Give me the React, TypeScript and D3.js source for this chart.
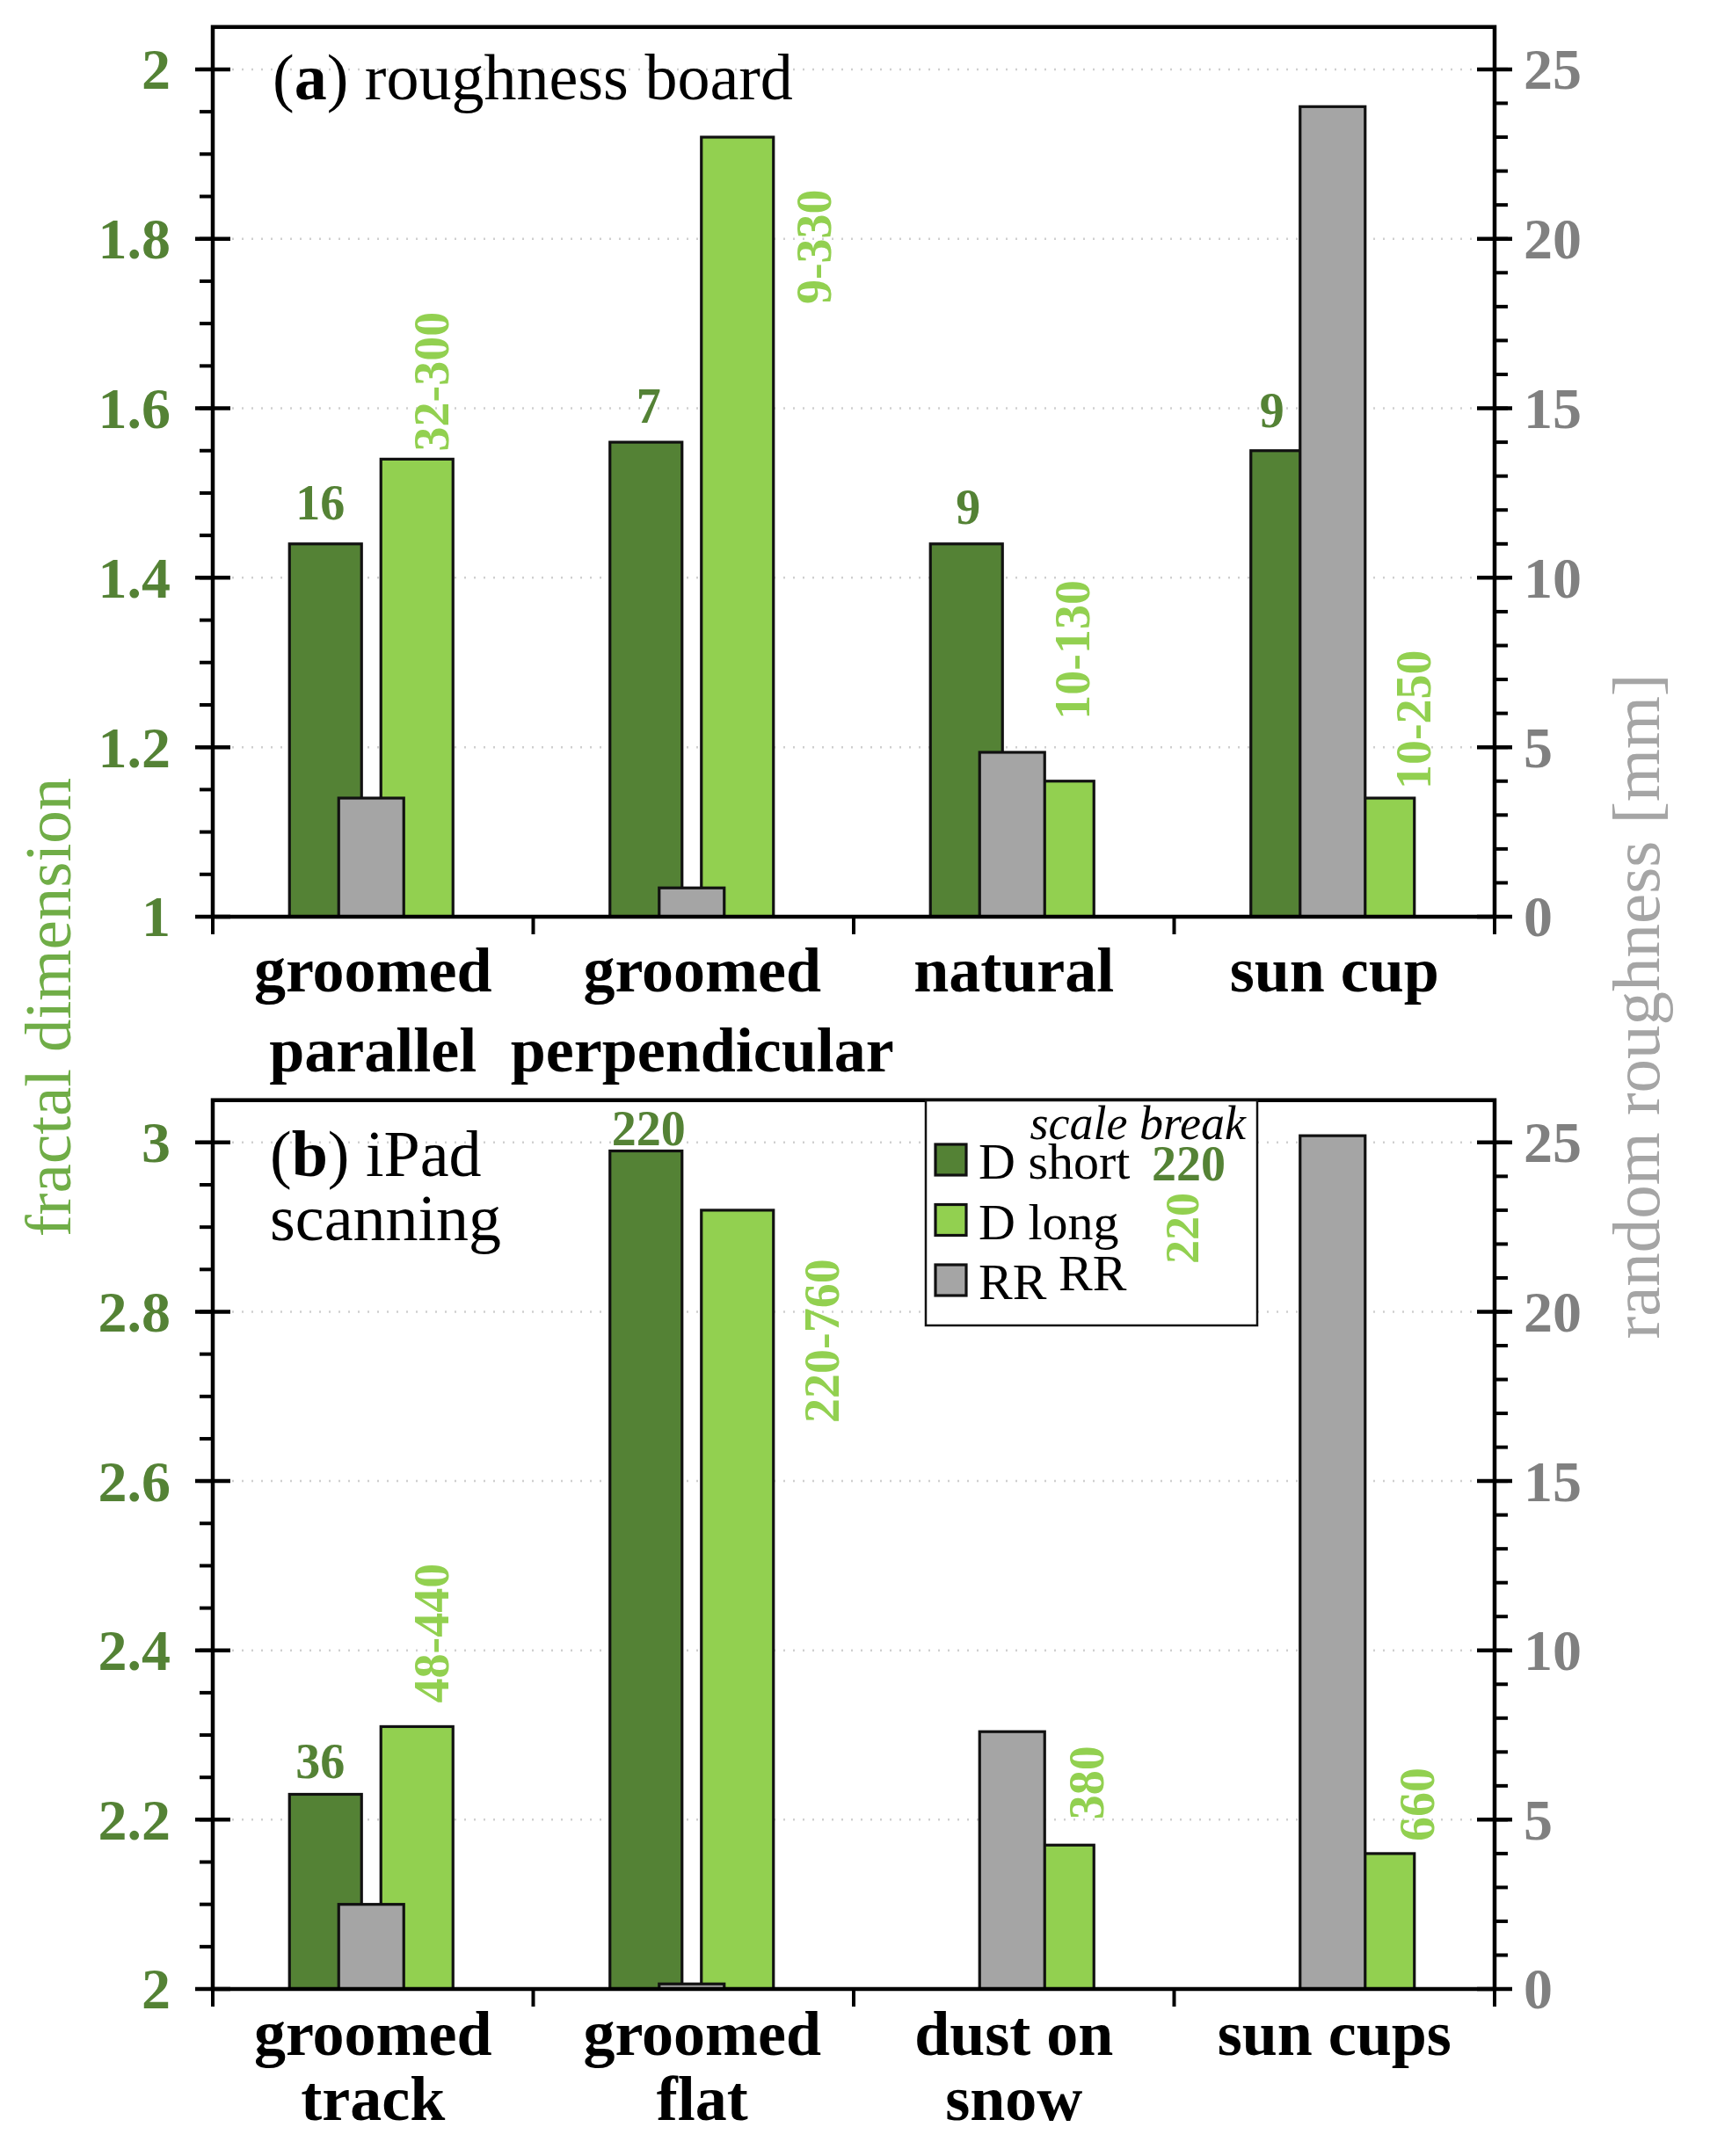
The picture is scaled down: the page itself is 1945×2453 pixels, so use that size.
import { useEffect, useRef } from "react";
import * as d3 from "d3";

const W = 1945;
const H = 2453;

const DARK = "#548235";
const LIGHT = "#92D050";
const GRAY = "#A5A5A5";
const TITLE_GREEN = "#70AD47";
const TICK_GRAY = "#808080";
const FONT = "'Liberation Serif', 'Times New Roman', serif";

// panel (a) roughness board
const categoriesA = [["groomed", "parallel"], ["groomed", "perpendicular"], ["natural"], ["sun cup"]];
const dShortA = [1.44, 1.56, 1.44, 1.55];
const dLongA = [1.54, 1.92, 1.16, 1.14];
const rrA = [3.5, 0.85, 4.85, 23.9];
const shortLabelsA = ["16", "7", "9", "9"];
const longLabelsA = ["32-300", "9-330", "10-130", "10-250"];
const leftTicksA = [1, 1.2, 1.4, 1.6, 1.8, 2];

// panel (b) iPad scanning
const categoriesB = [["groomed", "track"], ["groomed", "flat"], ["dust on", "snow"], ["sun cups"]];
const dShortB = [2.23, 2.99, null, null];
const dLongB = [2.31, 2.92, 2.17, 2.16];
const rrB = [2.5, 0.15, 7.6, 25.2];
const shortLabelsB = ["36", "220", "", ""];
const longLabelsB = ["48-440", "220-760", "380", "660"];
const leftTicksB = [2, 2.2, 2.4, 2.6, 2.8, 3];

const rightTicks = [0, 5, 10, 15, 20, 25];
const legendItems = ["D short", "D long", "RR"];

type Panel = {
  top: number;
  bottom: number;
  yMin: number;
  categories: string[][];
  dShort: (number | null)[];
  dLong: number[];
  rr: number[];
  shortLabels: string[];
  longLabels: string[];
  leftTicks: number[];
  shortNudge: [number, number][];
  longNudge: [number, number][];
  labelLines: [number, number];
};

function drawPanel(svg: d3.Selection<SVGSVGElement, unknown, null, undefined>, p: Panel) {
  const left = 242;
  const right = 1700;
  const g = svg.append("g");

  const x = d3
    .scaleBand<number>()
    .domain(p.categories.map((_, i) => i))
    .range([left, right])
    .padding(0);
  const off = d3.scalePoint<string>().domain(["short", "rr", "long"]).range([-54, 50]);
  const yL = d3.scaleLinear().domain([p.yMin, p.yMin + 1.05]).range([p.bottom, p.top]);
  const yR = d3.scaleLinear().domain([0, 26.25]).range([p.bottom, p.top]);

  // dotted grid
  g.selectAll(".grid")
    .data(p.leftTicks)
    .join("line")
    .attr("x1", left)
    .attr("x2", right)
    .attr("y1", (d) => yL(d))
    .attr("y2", (d) => yL(d))
    .attr("stroke", "#cfcfcf")
    .attr("stroke-width", 2.5)
    .attr("stroke-dasharray", "2 9");

  const cx = (i: number) => x(i)! + x.bandwidth() / 2;

  const series = [
    { key: "short", values: p.dShort, y: yL, fill: DARK, w: 82 },
    { key: "long", values: p.dLong, y: yL, fill: LIGHT, w: 82 },
    { key: "rr", values: p.rr, y: yR, fill: GRAY, w: 74 },
  ];
  series.forEach((s) => {
    g.selectAll(`.bar-${s.key}`)
      .data(s.values.map((v, i) => ({ v, i })).filter((d) => d.v != null))
      .join("rect")
      .attr("x", (d) => cx(d.i) + off(s.key)! - s.w / 2)
      .attr("y", (d) => s.y(d.v as number))
      .attr("width", s.w)
      .attr("height", (d) => p.bottom - s.y(d.v as number))
      .attr("fill", s.fill)
      .attr("stroke", "#111")
      .attr("stroke-width", 3.2);
  });

  // value labels above dark bars
  g.selectAll(".short-label")
    .data(p.shortLabels.map((t, i) => ({ t, i })).filter((d) => d.t))
    .join("text")
    .attr("x", (d) => cx(d.i) + off("short")! + p.shortNudge[d.i][0])
    .attr("y", (d) => yL(p.dShort[d.i] as number) - p.shortNudge[d.i][1])
    .attr("text-anchor", "middle")
    .attr("fill", DARK)
    .attr("font-weight", "bold")
    .style("font-size", "56px")
    .text((d) => d.t);

  // rotated scale-range labels for long bars
  g.selectAll(".long-label")
    .data(p.longLabels.map((t, i) => ({ t, i })))
    .join("text")
    .attr(
      "transform",
      (d) =>
        `translate(${cx(d.i) + off("long")! + p.longNudge[d.i][0]},${yL(p.dLong[d.i]) + p.longNudge[d.i][1]}) rotate(-90)`,
    )
    .attr("fill", LIGHT)
    .attr("font-weight", "bold")
    .style("font-size", "56px")
    .text((d) => d.t);

  // frame
  g.append("rect")
    .attr("x", left)
    .attr("y", p.top)
    .attr("width", right - left)
    .attr("height", p.bottom - p.top)
    .attr("fill", "none")
    .attr("stroke", "#000")
    .attr("stroke-width", 4.5);

  // left ticks
  const leftMinor = d3.range(p.yMin, p.yMin + 1.001, 0.05);
  g.selectAll(".lminor")
    .data(leftMinor)
    .join("line")
    .attr("x1", left - 15)
    .attr("x2", left)
    .attr("y1", (d) => yL(d))
    .attr("y2", (d) => yL(d))
    .attr("stroke", "#000")
    .attr("stroke-width", 4);
  g.selectAll(".lmajor")
    .data(p.leftTicks)
    .join("line")
    .attr("x1", left - 20)
    .attr("x2", left + 20)
    .attr("y1", (d) => yL(d))
    .attr("y2", (d) => yL(d))
    .attr("stroke", "#000")
    .attr("stroke-width", 4.5);
  g.selectAll(".llabel")
    .data(p.leftTicks)
    .join("text")
    .attr("x", left - 48)
    .attr("y", (d) => yL(d))
    .attr("dy", "0.34em")
    .attr("text-anchor", "end")
    .attr("fill", DARK)
    .attr("font-weight", "bold")
    .style("font-size", "66px")
    .text((d) => d3.format("~g")(d));

  // right ticks
  g.selectAll(".rminor")
    .data(d3.range(0, 26, 1))
    .join("line")
    .attr("x1", right)
    .attr("x2", right + 15)
    .attr("y1", (d) => yR(d))
    .attr("y2", (d) => yR(d))
    .attr("stroke", "#000")
    .attr("stroke-width", 4);
  g.selectAll(".rmajor")
    .data(rightTicks)
    .join("line")
    .attr("x1", right - 20)
    .attr("x2", right + 20)
    .attr("y1", (d) => yR(d))
    .attr("y2", (d) => yR(d))
    .attr("stroke", "#000")
    .attr("stroke-width", 4.5);
  g.selectAll(".rlabel")
    .data(rightTicks)
    .join("text")
    .attr("x", right + 33)
    .attr("y", (d) => yR(d))
    .attr("dy", "0.34em")
    .attr("fill", TICK_GRAY)
    .attr("font-weight", "bold")
    .style("font-size", "66px")
    .text((d) => String(d));

  // x ticks at band boundaries
  const bounds = [...x.domain().map((i) => x(i)!), right];
  g.selectAll(".xtick")
    .data(bounds)
    .join("line")
    .attr("x1", (d) => d)
    .attr("x2", (d) => d)
    .attr("y1", p.bottom)
    .attr("y2", p.bottom + 20)
    .attr("stroke", "#000")
    .attr("stroke-width", 4);

  // category labels
  const cat = g
    .selectAll(".cat")
    .data(p.categories.map((lines, i) => ({ lines, i })))
    .join("text")
    .attr("text-anchor", "middle")
    .attr("font-weight", "bold")
    .attr("fill", "#000")
    .style("font-size", "72px");
  cat
    .selectAll("tspan")
    .data((d) => d.lines.map((l, k) => ({ l, k, i: d.i })))
    .join("tspan")
    .attr("x", (d) => cx(d.i) + (d.i === 1 ? 10 : 0))
    .attr("y", (d) => p.bottom + p.labelLines[d.k])
    .text((d) => d.l);
}

export default function App() {
  const svgRef = useRef<SVGSVGElement>(null);

  useEffect(() => {
    document.body.style.margin = "0";
    if (!svgRef.current) return;
    const svg = d3.select(svgRef.current);
    svg.selectAll("*").remove();
    svg.style("font-family", FONT);

    svg.append("rect").attr("width", W).attr("height", H).attr("fill", "#fff");

    drawPanel(svg, {
      top: 30.7,
      bottom: 1043,
      yMin: 1,
      categories: categoriesA,
      dShort: dShortA,
      dLong: dLongA,
      rr: rrA,
      shortLabels: shortLabelsA,
      longLabels: longLabelsA,
      leftTicks: leftTicksA,
      shortNudge: [[-6, 28], [3, 22], [2, 23], [-17, 27]],
      longNudge: [[36, -9], [106, 190], [36, -70], [59, -10]],
      labelLines: [85, 176],
    });

    drawPanel(svg, {
      top: 1251.7,
      bottom: 2263,
      yMin: 2,
      categories: categoriesB,
      dShort: dShortB,
      dLong: dLongB,
      rr: rrB,
      shortLabels: shortLabelsB,
      longLabels: longLabelsB,
      leftTicks: leftTicksB,
      shortNudge: [[-6, 18], [3, 6], [0, 0], [0, 0]],
      longNudge: [[36, -27], [115, 242], [52, -29], [63, -14]],
      labelLines: [75, 149],
    });

    // panel titles
    const ta = svg.append("text").attr("x", 310).attr("y", 113).style("font-size", "74px");
    ta.append("tspan").text("(");
    ta.append("tspan").attr("font-weight", "bold").text("a");
    ta.append("tspan").text(") roughness board");

    const tb = svg.append("text").style("font-size", "74px");
    const l1 = tb.append("tspan").attr("x", 307).attr("y", 1338);
    l1.append("tspan").text("(");
    l1.append("tspan").attr("font-weight", "bold").text("b");
    l1.append("tspan").text(") iPad");
    tb.append("tspan").attr("x", 307).attr("y", 1411).text("scanning");

    // axis titles
    svg
      .append("text")
      .attr("transform", "translate(80,1146) rotate(-90)")
      .attr("text-anchor", "middle")
      .attr("fill", TITLE_GREEN)
      .style("font-size", "75px")
      .text("fractal dimension");
    svg
      .append("text")
      .attr("transform", "translate(1887,1145) rotate(-90)")
      .attr("text-anchor", "middle")
      .attr("fill", GRAY)
      .style("font-size", "77px")
      .text("random roughness [mm]");

    // legend
    const lg = svg.append("g");
    lg.append("rect")
      .attr("x", 1053)
      .attr("y", 1252)
      .attr("width", 377)
      .attr("height", 256)
      .attr("fill", "#fff")
      .attr("stroke", "#111")
      .attr("stroke-width", 2.5);
    const legendFill = [DARK, LIGHT, GRAY];
    const ly = d3.scalePoint<string>().domain(legendItems).range([1320, 1457]);
    lg.selectAll(".sw")
      .data(legendItems)
      .join("rect")
      .attr("x", 1064)
      .attr("y", (d) => ly(d)! - 18)
      .attr("width", 35)
      .attr("height", 35)
      .attr("fill", (_, i) => legendFill[i])
      .attr("stroke", "#111")
      .attr("stroke-width", 3.2);
    lg.selectAll(".lt")
      .data(legendItems)
      .join("text")
      .attr("x", 1113)
      .attr("y", (d) => ly(d)! + 21)
      .style("font-size", "58px")
      .text((d) => d);
    lg.append("text")
      .attr("x", 1204)
      .attr("y", 1468)
      .style("font-size", "58px")
      .text("RR");
    lg.append("text")
      .attr("x", 1417)
      .attr("y", 1296)
      .attr("text-anchor", "end")
      .attr("font-style", "italic")
      .style("font-size", "54px")
      .text("scale break");
    lg.append("text")
      .attr("x", 1310)
      .attr("y", 1343)
      .attr("fill", DARK)
      .attr("font-weight", "bold")
      .style("font-size", "56px")
      .text("220");
    lg.append("text")
      .attr("transform", "translate(1363,1438) rotate(-90)")
      .attr("fill", LIGHT)
      .attr("font-weight", "bold")
      .style("font-size", "54px")
      .text("220");
  }, []);

  return <svg ref={svgRef} width={W} height={H} style={{ display: "block" }} />;
}
